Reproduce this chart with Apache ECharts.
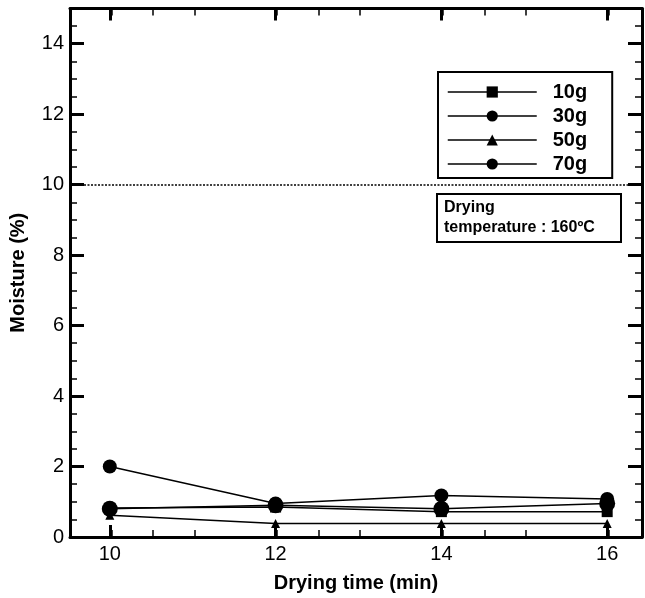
<!DOCTYPE html>
<html><head><meta charset="utf-8">
<script src="https://cdn.jsdelivr.net/npm/echarts@6/dist/echarts.min.js"></script>
<style>html,body{margin:0;padding:0;background:#fff}#c{width:645px;height:598px}</style>
</head><body><div id="c"></div>
<script>
const times = [10, 12, 14, 16];
const s10g = [0.82, 0.85, 0.72, 0.72];
const s30g = [0.80, 0.90, 0.80, 0.95];
const s50g = [0.62, 0.38, 0.38, 0.38];
const s70g = [2.0, 0.95, 1.18, 1.08];
const seriesNames = ['10g', '30g', '50g', '70g'];
const xTicks = [10, 12, 14, 16];
const yTicks = [0, 2, 4, 6, 8, 10, 12, 14];
const refLine = 10;

const chart = echarts.init(document.getElementById('c'));
const F = 'Liberation Sans, Arial, sans-serif';
const XMIN = 9.52, XMAX = 16.42, YMIN = 0, YMAX = 15;
function mk(name, vals, symbol, size) {
  return {
    name, type: 'line', data: times.map((t, i) => [t, vals[i]]),
    symbol, symbolSize: size,
    lineStyle: { color: '#000', width: 1.5 },
    itemStyle: { color: '#000', borderWidth: 0 },
    z: 3
  };
}
const axisLine = { show: true, onZero: false, lineStyle: { color: '#000', width: 3 } };
const minorTick = { show: true, splitNumber: 4, length: 7, lineStyle: { color: '#000', width: 1.5 } };
function xAx(pos, showLabel) {
  return {
    type: 'value', position: pos, min: XMIN, max: XMAX, interval: 2,
    axisLine, minorTick, splitLine: { show: false },
    axisLabel: showLabel ? { color: '#000', fontSize: 20, fontFamily: F, margin: 7, customValues: xTicks } : { show: false },
    axisTick: { show: true, inside: true, length: 12, lineStyle: { color: '#000', width: 3 }, customValues: xTicks },
    name: showLabel ? 'Drying time (min)' : '', nameLocation: 'middle', nameGap: 36,
    nameTextStyle: { color: '#000', fontSize: 20, fontWeight: 'bold', fontFamily: F }
  };
}
function yAx(pos, showLabel) {
  return {
    type: 'value', position: pos, min: YMIN, max: YMAX, interval: 2,
    axisLine, minorTick, splitLine: { show: false },
    axisLabel: showLabel ? { color: '#000', fontSize: 20, fontFamily: F, margin: 6, customValues: yTicks } : { show: false },
    axisTick: { show: true, inside: true, length: 14, lineStyle: { color: '#000', width: 3 }, customValues: yTicks },
    name: showLabel ? 'Moisture (%)' : '', nameLocation: 'middle', nameGap: 42,
    nameTextStyle: { color: '#000', fontSize: 20, fontWeight: 'bold', fontFamily: F }
  };
}
const series = [
  mk('10g', s10g, 'rect', 11),
  mk('30g', s30g, 'circle', 16),
  mk('50g', s50g, 'triangle', 9),
  mk('70g', s70g, 'circle', 14),
];
series[0].markLine = {
  silent: true, symbol: 'none', label: { show: false },
  lineStyle: { color: '#000', type: [2, 1.5], width: 1.5 },
  data: [[{ coord: [XMIN, refLine] }, { coord: [XMAX, refLine] }]]
};
chart.setOption({
  animation: false,
  grid: { left: 69, right: 3, top: 8.5, bottom: 57 },
  xAxis: [xAx('bottom', true), xAx('top', false)],
  yAxis: [yAx('left', true), yAx('right', false)],
  legend: {
    data: seriesNames,
    orient: 'vertical', left: 438, top: 72,
    itemWidth: 89, itemHeight: 14, itemGap: 4,
    padding: [10, 25, 4, 9],
    borderColor: '#000', borderWidth: 2, backgroundColor: '#fff',
    textStyle: { color: '#000', fontSize: 20, fontWeight: 'bold', fontFamily: F, lineHeight: 14, padding: [0, 0, 0, 11] },
    itemStyle: { color: '#000' },
    lineStyle: { color: '#000', width: 1.5 }
  },
  graphic: [{
    type: 'group', left: 436, top: 193, z: 10,
    children: [
      { type: 'rect', shape: { x: 0, y: 0, width: 184, height: 48 },
        style: { fill: '#fff', stroke: '#000', lineWidth: 2 } },
      { type: 'text', left: 7, top: 4,
        style: { text: 'Drying\ntemperature : 160ºC', fill: '#000', font: 'bold 16px ' + F, lineHeight: 20 } }
    ]
  }],
  series
});
</script></body></html>
